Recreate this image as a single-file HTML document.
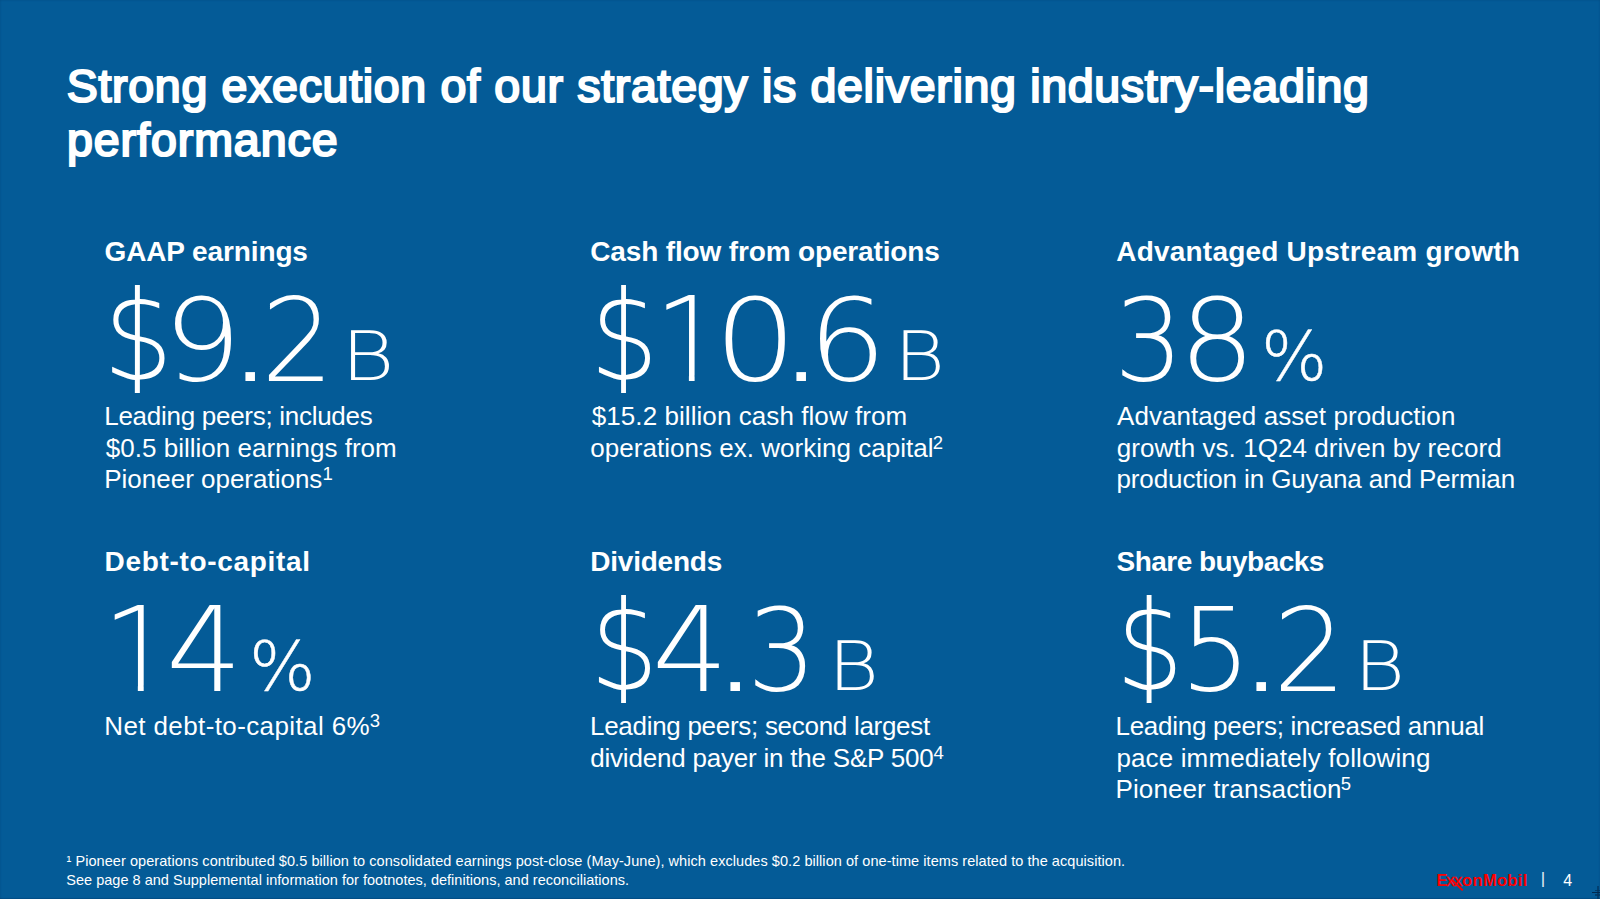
<!DOCTYPE html>
<html lang="en">
<head>
<meta charset="utf-8">
<title>Strong execution of our strategy is delivering industry-leading performance</title>
<style>
html,body{margin:0;padding:0}
body{width:1600px;height:899px;overflow:hidden;background:#045b97;font-family:"Liberation Sans",sans-serif;color:#fff}
#slide{position:relative;width:1600px;height:899px;overflow:hidden;background:#045b97}
#slide *{margin:0;padding:0}
h1,h2,p,.big span,.foot span,.edge{position:absolute;white-space:nowrap;line-height:1}
h1{font-weight:400;position:static}
.t{position:absolute;white-space:nowrap;line-height:1;font:400 46.5px/1 "Liberation Sans",sans-serif;-webkit-text-stroke:2.2px #fff}
.h{font:700 28px/1 "Liberation Sans",sans-serif}
.d{font:400 26px/1 "Liberation Sans",sans-serif}
.f{font:400 14.5px/1 "Liberation Sans",sans-serif}
sup{position:absolute;font:400 18.5px/1 "Liberation Sans",sans-serif;letter-spacing:0;vertical-align:baseline}
.big span{font-family:"DejaVu Sans Light","DejaVu Sans","Liberation Sans",sans-serif;font-weight:200;transform-origin:0 0}
.big .n{font-size:117px}
.big .u{font-size:67.5px}
.logo{font:700 16.5px/1 "Liberation Sans",sans-serif;color:#fe0000}
.logox{font:400 16.5px/1 "Liberation Sans",sans-serif;color:#fe0000;-webkit-text-stroke:.35px #fe0000}
.bar{font:400 17px/1 "Liberation Sans",sans-serif;color:#e6edf4}
.pg{font:400 16px/1 "Liberation Sans",sans-serif}
.xleg{position:absolute;left:1451.5px;top:878.6px;width:15px;height:1.9px;background:#fe0000;transform-origin:0 50%;transform:rotate(44deg)}
.edge{left:0;top:0;width:1600px;height:899px;box-shadow:inset 0 0 2px rgba(0,30,70,.28),inset 0 -1px 0 rgba(0,30,70,.14);pointer-events:none}
.cur{position:absolute;background:#02345f}
</style>
</head>
<body>
<div id="slide">
<h1><span class="t" style="left:66.75px;top:63.4px;letter-spacing:0.7px">Strong execution of our strategy is delivering industry-leading</span> <span class="t" style="left:67px;top:116.6px;letter-spacing:0.95px">performance</span></h1>
<section>
<h2 class="h" style="left:104.5px;top:238.25px;letter-spacing:-0.12px">GAAP earnings</h2>
<div class="big"><span class="n" style="left:103.38px;top:273.6px;transform:scale(0.9447,1.0694);clip-path:inset(10.28px -9px 5.72px -9px)">$</span><span class="n" style="left:162.93px;top:282.8px;transform:scale(1.0578,0.9816)">9</span><span class="n" style="left:219.76px;top:259.04px;transform:scale(1.628,1.2308)">.</span><span class="n" style="left:260.7px;top:282.71px;transform:scale(0.9827,0.99)">2</span><span class="u" style="left:340.99px;top:323.3px;transform:scale(1.2107,1.0)">B</span></div>
<p class="d" style="left:104.25px;top:403.2px;letter-spacing:-0.28px">Leading peers; includes</p>
<p class="d" style="left:105.75px;top:434.8px;letter-spacing:0.02px">$0.5 billion earnings from</p>
<p class="d" style="left:104.25px;top:466.3px;letter-spacing:-0.01px">Pioneer operations<sup style="left:218.25px;top:-1px">1</sup></p>
</section>
<section>
<h2 class="h" style="left:590.25px;top:238.25px;letter-spacing:-0.15px">Cash flow from operations</h2>
<div class="big"><span class="n" style="left:589.85px;top:273.6px;transform:scale(0.9222,1.0694);clip-path:inset(10.28px -9px 5.72px -9px)">$</span><span class="n" style="left:653.56px;top:281.62px;transform:scale(0.9669,1.0011);clip-path:polygon(0 0,100% 0,100% 93.6px,42.0px 93.6px,42.0px 100%,36.09px 100%,36.09px 93.6px,0 93.6px)">1</span><span class="n" style="left:714.27px;top:282.8px;transform:scale(1.1144,0.9816)">0</span><span class="n" style="left:770.76px;top:259.04px;transform:scale(1.628,1.2308)">.</span><span class="n" style="left:807.93px;top:282.8px;transform:scale(1.0578,0.9816)">6</span><span class="u" style="left:894.2px;top:323.3px;transform:scale(1.1549,1.0)">B</span></div>
<p class="d" style="left:591.75px;top:403.2px;letter-spacing:0.07px">$15.2 billion cash flow from</p>
<p class="d" style="left:590.25px;top:434.8px;letter-spacing:0.03px">operations ex. working capital<sup style="left:342.5px;top:-1px">2</sup></p>
</section>
<section>
<h2 class="h" style="left:1116.25px;top:238.25px;letter-spacing:0.21px">Advantaged Upstream growth</h2>
<div class="big"><span class="n" style="left:1114.3px;top:282.8px;transform:scale(0.9341,0.9816)">3</span><span class="n" style="left:1178.59px;top:282.8px;transform:scale(1.0266,0.9816)">8</span><span class="u" style="left:1260.94px;top:323.3px;transform:scale(1.0338,1.0);-webkit-text-stroke:.45px #fff">%</span></div>
<p class="d" style="left:1117px;top:403.2px;letter-spacing:0.06px">Advantaged asset production</p>
<p class="d" style="left:1116.8px;top:434.8px;letter-spacing:0.06px">growth vs. 1Q24 driven by record</p>
<p class="d" style="left:1116.45px;top:466.3px;letter-spacing:-0.1px">production in Guyana and Permian</p>
</section>
<section>
<h2 class="h" style="left:104.5px;top:548.25px;letter-spacing:0.68px">Debt-to-capital</h2>
<div class="big"><span class="n" style="left:101.72px;top:591.62px;transform:scale(0.9928,1.0011);clip-path:polygon(0 0,100% 0,100% 93.6px,42.0px 93.6px,42.0px 100%,36.09px 100%,36.09px 93.6px,0 93.6px)">1</span><span class="n" style="left:165.55px;top:591.62px;transform:scale(1.0265,1.0011)">4</span><span class="u" style="left:248.67px;top:633.3px;transform:scale(1.0384,1.0);-webkit-text-stroke:.45px #fff">%</span></div>
<p class="d" style="left:104.25px;top:713.2px;letter-spacing:0.39px">Net debt-to-capital 6%<sup style="left:265.5px;top:-1.25px">3</sup></p>
</section>
<section>
<h2 class="h" style="left:590.25px;top:548.25px;letter-spacing:-0.22px">Dividends</h2>
<div class="big"><span class="n" style="left:589.85px;top:583.6px;transform:scale(0.9222,1.0694);clip-path:inset(10.28px -9px 5.72px -9px)">$</span><span class="n" style="left:651.8px;top:591.62px;transform:scale(1.0265,1.0011)">4</span><span class="n" style="left:704.76px;top:569.04px;transform:scale(1.628,1.2308)">.</span><span class="n" style="left:746.8px;top:592.8px;transform:scale(0.9341,0.9816)">3</span><span class="u" style="left:827.95px;top:633.3px;transform:scale(1.1549,1.0)">B</span></div>
<p class="d" style="left:590px;top:713.2px;letter-spacing:-0.29px">Leading peers; second largest</p>
<p class="d" style="left:590.25px;top:744.8px;letter-spacing:-0.21px">dividend payer in the S&amp;P 500<sup style="left:343.25px;top:-1px">4</sup></p>
</section>
<section>
<h2 class="h" style="left:1116.55px;top:548.25px;letter-spacing:-0.54px">Share buybacks</h2>
<div class="big"><span class="n" style="left:1115.73px;top:583.6px;transform:scale(0.9087,1.0694);clip-path:inset(10.28px -9px 5.72px -9px)">$</span><span class="n" style="left:1180.11px;top:591.73px;transform:scale(0.9547,0.9924)">5</span><span class="n" style="left:1230.76px;top:569.04px;transform:scale(1.628,1.2308)">.</span><span class="n" style="left:1272.91px;top:592.71px;transform:scale(0.9872,0.99)">2</span><span class="u" style="left:1354.2px;top:633.3px;transform:scale(1.1549,1.0)">B</span></div>
<p class="d" style="left:1115.5px;top:713.2px;letter-spacing:-0.28px">Leading peers; increased annual</p>
<p class="d" style="left:1116.45px;top:744.8px;letter-spacing:0.13px">pace immediately following</p>
<p class="d" style="left:1115.5px;top:776.3px;letter-spacing:0.11px">Pioneer transaction<sup style="left:225.25px;top:-1.25px">5</sup></p>
</section>
<footer class="foot">
<p class="f" style="left:66.5px;top:854px;letter-spacing:0.06px">¹ Pioneer operations contributed $0.5 billion to consolidated earnings post-close (May-June), which excludes $0.2 billion of one-time items related to the acquisition.</p>
<p class="f" style="left:66.25px;top:873.2px;letter-spacing:0.02px">See page 8 and Supplemental information for footnotes, definitions, and reconciliations.</p>
<span class="brand"><span class="logo" style="left:1436.5px;top:872.2px">E</span><span class="logox" style="left:1446.35px;top:872.2px;letter-spacing:-0.6px">xx</span><span class="logo" style="left:1462.1px;top:872.2px;letter-spacing:0.32px">onMobil</span></span><span class="bar" style="left:1540.7px;top:870.15px">|</span><span class="pg" style="left:1563.25px;top:873px">4</span>
</footer>
<i class="xleg"></i>
<div class="edge"></div>
<i class="cur" style="left:1597px;top:886px;width:2px;height:13px;opacity:.7"></i><i class="cur" style="left:1592px;top:892px;width:8px;height:1px;background:#012a4f"></i><i class="cur" style="left:1595px;top:889.5px;width:5px;height:1.5px;opacity:.75"></i><i class="cur" style="left:1595px;top:894px;width:5px;height:1.5px;opacity:.75"></i>
</div>
</body>
</html>
